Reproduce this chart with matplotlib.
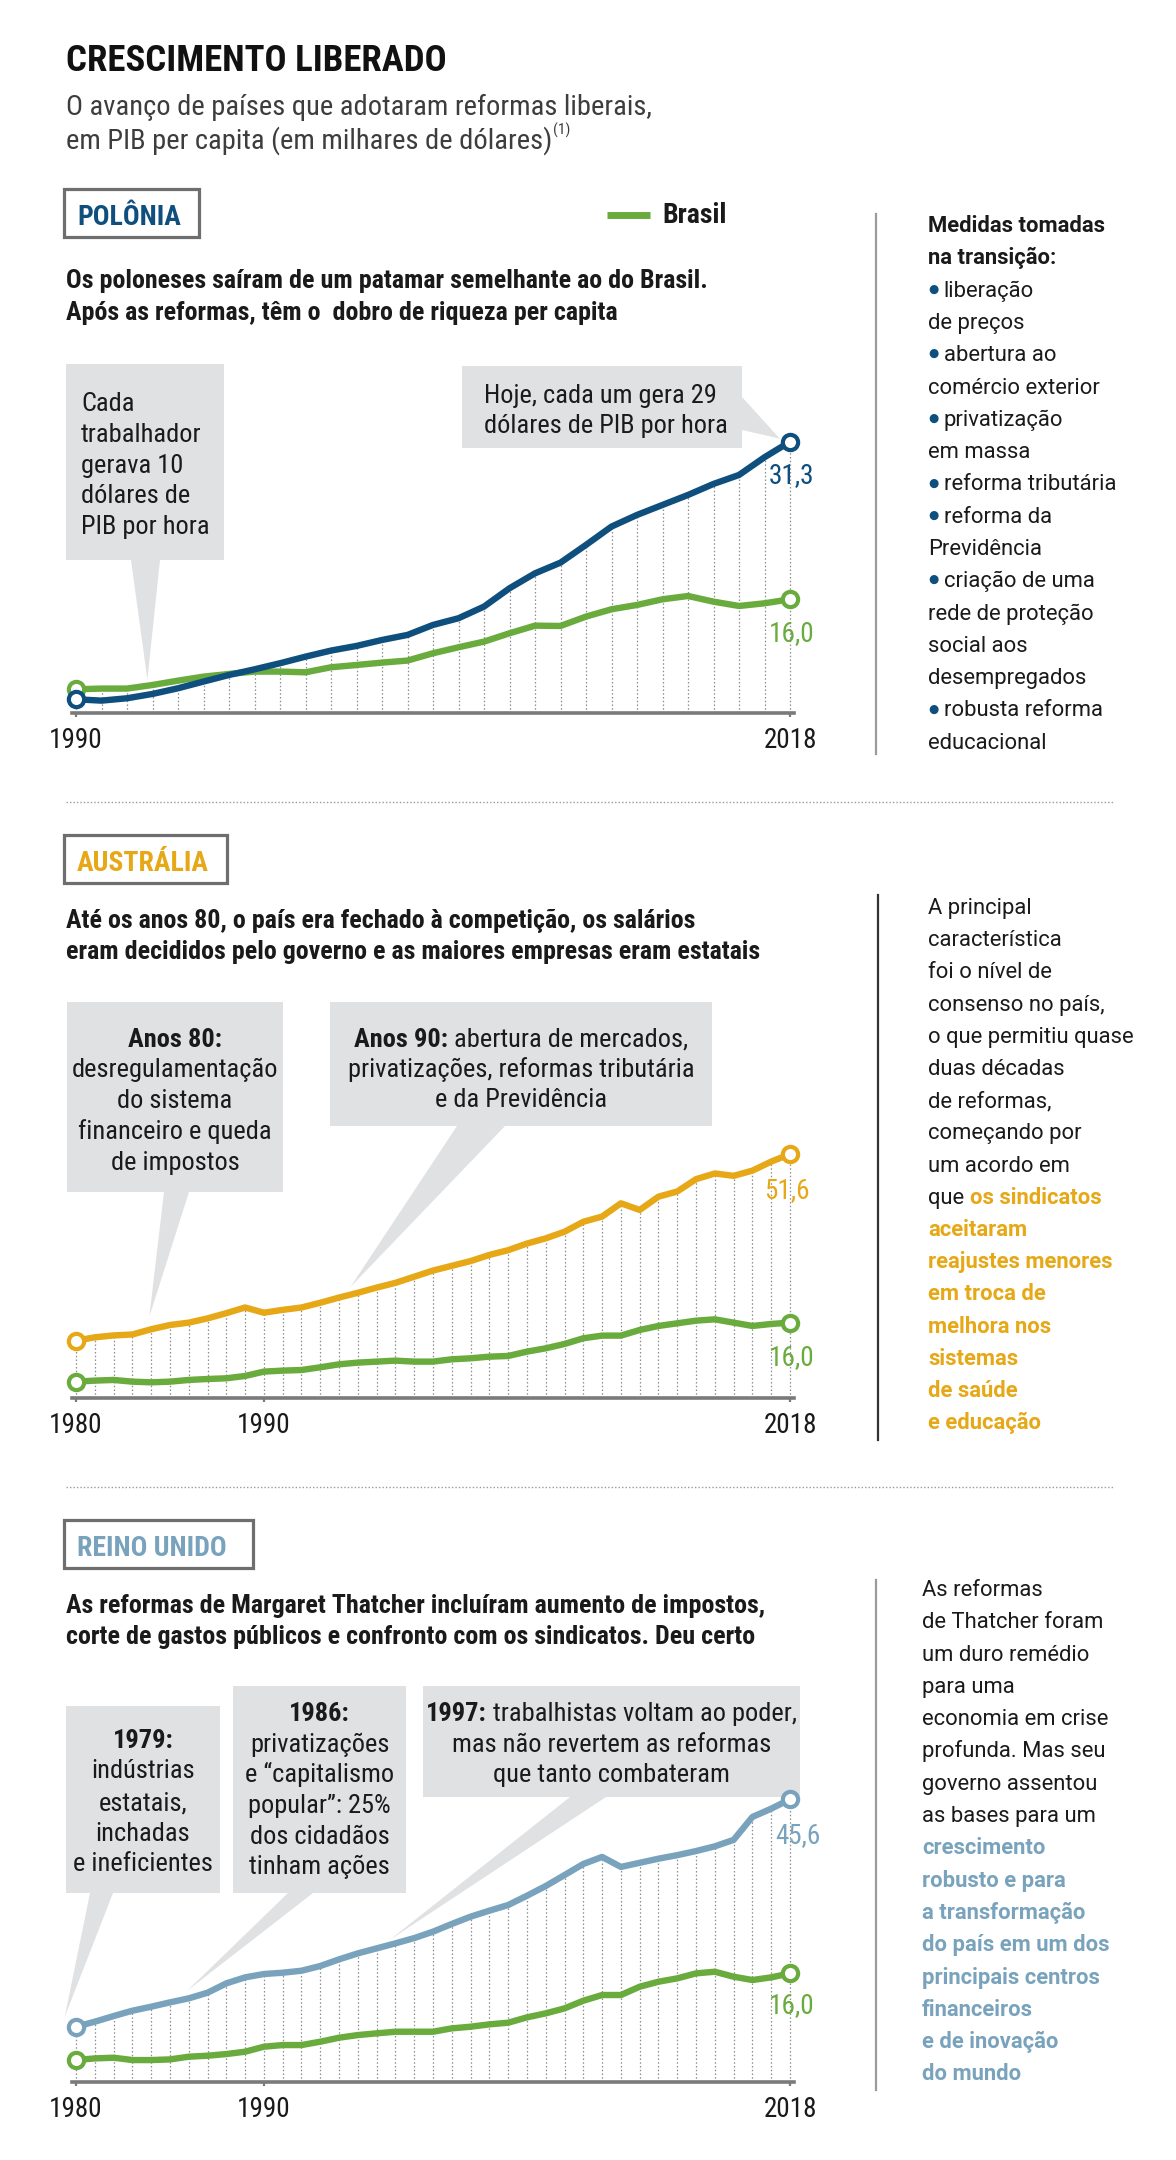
import os
import numpy as np
import matplotlib
matplotlib.use("Agg")
import matplotlib.pyplot as plt
from matplotlib.font_manager import FontProperties, fontManager
from matplotlib.patches import Rectangle, Polygon

# ---------------- data ----------------
years_pl = np.arange(1990, 2019)
polonia = [6.29, 6.16, 6.39, 6.81, 7.36, 8.01, 8.65, 9.20, 9.79, 10.43,
           11.02, 11.47, 12.05, 12.54, 13.51, 14.16, 15.29, 17.07, 18.52, 19.56,
           21.28, 23.06, 24.19, 25.16, 26.13, 27.20, 28.07, 29.79, 31.3]
brasil_pl = [7.26, 7.33, 7.33, 7.68, 8.10, 8.49, 8.75, 8.98, 8.98, 8.91,
             9.40, 9.62, 9.85, 10.05, 10.76, 11.34, 11.89, 12.70, 13.44, 13.41,
             14.32, 15.03, 15.45, 16.0, 16.32, 15.77, 15.35, 15.61, 16.0]

years_80 = np.arange(1980, 2019)
australia = [12.2, 12.9, 13.3, 13.5, 14.6, 15.5, 16.0, 16.9, 18.0, 19.2,
             18.1, 18.7, 19.2, 20.2, 21.3, 22.3, 23.4, 24.4, 25.7, 27.0,
             28.0, 29.0, 30.3, 31.3, 32.7, 33.8, 35.2, 37.3, 38.4, 41.2,
             39.8, 42.6, 43.7, 46.3, 47.5, 47.0, 48.1, 50.0, 51.6]
brasil_au = [3.54, 3.76, 3.90, 3.54, 3.40, 3.54, 3.90, 4.10, 4.25, 4.74,
             5.66, 5.87, 6.00, 6.57, 7.20, 7.56, 7.77, 7.98, 7.77, 7.77,
             8.26, 8.47, 8.82, 8.96, 9.88, 10.58, 11.50, 12.70, 13.26, 13.26,
             14.45, 15.30, 15.86, 16.42, 16.70, 16.00, 15.30, 15.72, 16.0]

reino_unido = [6.93, 7.78, 8.74, 9.65, 10.33, 11.07, 11.75, 12.71, 14.3, 15.32,
               15.89, 16.11, 16.45, 17.25, 18.38, 19.4, 20.25, 21.1, 22.0, 23.09,
               24.4, 25.64, 26.66, 27.62, 29.2, 30.85, 32.72, 34.6, 35.8, 34.1,
               34.8, 35.5, 36.1, 36.8, 37.6, 38.7, 42.6, 44.0, 45.6]
brasil_uk = [1.26, 1.54, 1.66, 1.26, 1.26, 1.37, 1.83, 2.0, 2.28, 2.68,
             3.53, 3.81, 3.81, 4.38, 5.06, 5.51, 5.8, 6.08, 6.08, 6.08,
             6.65, 6.93, 7.33, 7.61, 8.52, 9.2, 10.05, 11.35, 12.32, 12.32,
             13.73, 14.58, 15.15, 16.0, 16.28, 15.43, 14.87, 15.32, 16.0]

ticks_pl = [1990, 2018]
ticks_80 = [1980, 1990, 2018]

# ---------------- style ----------------
W, H = 1176, 2160
GREEN = "#6aab3d"
BLUE = "#0e4f7e"
ORANGE = "#e6a816"
UKBLUE = "#79a3bc"
BOXGRAY = "#e0e1e3"
TXT = "#1a1a1a"


def wnum(w):
    if isinstance(w, (int, float)):
        return int(w)
    return {"normal": 400, "regular": 400, "book": 400, "medium": 500,
            "semibold": 600, "demibold": 600, "bold": 700, "heavy": 800,
            "black": 900, "light": 300}.get(str(w).lower(), 400)


def find_condensed(target):
    prefs = ["Roboto Condensed", "Liberation Sans Narrow", "Noto Sans", "Open Sans",
             "DejaVu Sans", "Fira Sans Condensed", "IBM Plex Sans Condensed",
             "PT Sans Narrow", "Ubuntu Condensed", "Arial Narrow"]
    best = None
    for rank, fam in enumerate(prefs):
        for f in fontManager.ttflist:
            base = os.path.basename(f.fname).lower()
            if "mono" in base or "cjk" in base or f.style != "normal":
                continue
            if not f.name.startswith(fam):
                continue
            nm = f.name.lower()
            narrow = ("condensed" in base or "narrow" in base or "condensed" in nm
                      or "narrow" in nm or str(f.stretch) == "condensed")
            if not narrow:
                continue
            if any(k in base for k in ("extra", "semi", "ultra")) or "[" in base:
                continue
            d = abs(wnum(f.weight) - target)
            if d > 100:
                continue
            key = (rank, d)
            if best is None or key < best[0]:
                best = (key, f.fname)
    return best[1] if best else None


COND_REG = find_condensed(400)
COND_BOLD = find_condensed(700)


def fp_cond(size, bold=False):
    path = COND_BOLD if bold else COND_REG
    if path:
        return FontProperties(fname=path, size=size)
    return FontProperties(family=["Liberation Sans", "DejaVu Sans"],
                          weight="bold" if bold else "normal", size=size * 0.86)


def fp_body(size, bold=False):
    return FontProperties(family=["Roboto", "DejaVu Sans"],
                          weight="bold" if bold else "normal", size=size)


fig = plt.figure(figsize=(W / 100, H / 100), dpi=100)
fig.patch.set_facecolor("white")
ov = fig.add_axes([0, 0, 1, 1], zorder=0)
ov.set_xlim(0, W)
ov.set_ylim(H, 0)
ov.axis("off")
renderer = fig.canvas.get_renderer()


def T(x, y, s, size, bold=False, color=TXT, ha="left", cond=True):
    fp = fp_cond(size, bold) if cond else fp_body(size, bold)
    return ov.text(x, y, s, fontproperties=fp, color=color, ha=ha, va="baseline")


def width_of(s, fp):
    t = ov.text(0, 0, s, fontproperties=fp)
    w = t.get_window_extent(renderer=renderer).width
    t.remove()
    return w


def mixed(x, y, parts, ha="left"):
    # parts: (text, size, bold, color, cond[, dy])
    items = []
    for p in parts:
        s, size, bold, color, cond = p[:5]
        dy = p[5] if len(p) > 5 else 0
        fp = fp_cond(size, bold) if cond else fp_body(size, bold)
        core = s.strip(" ")
        sp = width_of("a a", fp) - width_of("aa", fp)
        lead = (len(s) - len(s.lstrip(" "))) * sp
        trail = (len(s) - len(s.rstrip(" "))) * sp
        w = width_of(core, fp) if core else 0
        items.append((core, fp, color, lead, w, trail, dy))
    total = sum(i[3] + i[4] + i[5] for i in items)
    cx = x - total / 2 if ha == "center" else x
    for core, fp, color, lead, w, trail, dy in items:
        cx += lead
        if core:
            ov.text(cx, y + dy, core, fontproperties=fp, color=color, ha="left",
                    va="baseline")
        cx += w + trail


def country_box(x0, y0, x1, y1, label, color, bl):
    ov.add_patch(Rectangle((x0, y0), x1 - x0, y1 - y0, fill=False,
                           edgecolor="#6e6e6e", lw=2.3))
    T(x0 + 13, bl, label, 20, bold=True, color=color)


def callout(ax, box, base, tip_data, lines, ha="left", tx=None):
    x0, y0, x1, y1 = box
    ov.add_patch(Rectangle((x0, y0), x1 - x0, y1 - y0, facecolor=BOXGRAY,
                           edgecolor="none", zorder=1))
    dx, dy = ax.transData.transform(tip_data)
    tip = (dx, H - dy)
    ov.add_patch(Polygon([base[0], base[1], tip], closed=True, facecolor=BOXGRAY,
                         edgecolor="none", zorder=1))
    for y, parts in lines:
        xx = (x0 + x1) / 2 if tx is None else tx
        mixed(xx, y, parts, ha=ha)


def chart(rect_px, years, country, brasil, ccolor, ylim, ticks, lab_off_c, lab_off_b):
    left, right, top, bottom = rect_px
    ax = fig.add_axes([left / W, 1 - bottom / H, (right - left) / W, (bottom - top) / H],
                      zorder=2)
    ax.set_facecolor("none")
    x0p, x1p = 76, 790
    ppy = (x1p - x0p) / (years[-1] - years[0])
    ax.set_xlim(years[0] - (x0p - left) / ppy, years[-1] + (right - x1p) / ppy)
    ax.set_ylim(*ylim)
    topv = np.maximum(np.array(country), np.array(brasil))
    ax.vlines(years, ylim[0], topv, colors="#8c8c8c", linestyles=(0, (1.2, 1.8)),
              lw=0.9, zorder=1)
    for vals, col in ((brasil, GREEN), (country, ccolor)):
        ax.plot(years, vals, color=col, lw=4.6, solid_joinstyle="round",
                solid_capstyle="round", zorder=3, clip_on=False)
        ax.plot([years[0], years[-1]], [vals[0], vals[-1]], "o", ms=11, mfc="white",
                mec=col, mew=3, zorder=4, clip_on=False)
    for s in ("top", "left", "right"):
        ax.spines[s].set_visible(False)
    ax.spines["bottom"].set_color("#7a7a7a")
    ax.spines["bottom"].set_linewidth(2.6)
    ax.set_yticks([])
    ax.set_xticks(ticks)
    ax.set_xticklabels([str(t) for t in ticks])
    ax.tick_params(axis="x", length=3, width=1.6, color="#7a7a7a", pad=7,
                   labelcolor=TXT)
    for lbl in ax.get_xticklabels():
        lbl.set_fontproperties(fp_cond(19.5))
    for vals, col, off in ((country, ccolor, lab_off_c), (brasil, GREEN, lab_off_b)):
        ax.annotate(f"{vals[-1]:.1f}".replace(".", ","), xy=(years[-1], vals[-1]),
                    xytext=off, textcoords="offset pixels", ha="center",
                    va="baseline", color=col, fontproperties=fp_cond(19.5))
    return ax


# ---------------- header ----------------
T(66, 71, "CRESCIMENTO LIBERADO", 26.5, bold=True, color="#111111")
SUBC = "#3d3d3d"
T(66, 115, "O avanço de países que adotaram reformas liberais,", 20.5, color=SUBC)
sub2 = "em PIB per capita (em milhares de dólares)"
T(66, 149, sub2, 20.5, color=SUBC)
w_sub = width_of(sub2, fp_cond(20.5))
T(66 + w_sub + 1, 135, "(1)", 11, color=SUBC)

# separators between sections
for yy in (802, 1487):
    ov.plot([66, 1114], [yy, yy], color="#9a9a9a", lw=1.0, ls=(0, (1, 1.5)))

# ---------------- POLÔNIA ----------------
country_box(64, 189, 199, 237, "POLÔNIA", BLUE, 225)
ov.plot([607, 650], [215, 215], color=GREEN, lw=5, solid_capstyle="butt")
T(662, 223, "Brasil", 20, bold=True)
T(66, 288, "Os poloneses saíram de um patamar semelhante ao do Brasil.", 18.7, bold=True)
T(66, 320, "Após as reformas, têm o  dobro de riqueza per capita", 18.7, bold=True)

ax_pl = chart((72, 794, 400, 713.3), years_pl, polonia, brasil_pl, BLUE,
              (4.93, 35.35), ticks_pl, (2, -41), (2, -42))

R = lambda s, b=False, c=TXT: (s, 19, b, c, True)
callout(ax_pl, (66, 364, 224, 560), ((131, 560), (160, 560)), (1992.8, 8.2),
        [(411, [R("Cada")]), (442, [R("trabalhador")]), (473, [R("gerava 10")]),
         (503, [R("dólares de")]), (534, [R("PIB por hora")])], ha="left", tx=81)
callout(ax_pl, (462, 366, 742, 448), ((742, 397), (742, 430)), (2017.6, 31.6),
        [(403, [R("Hoje, cada um gera 29")]), (433, [R("dólares de PIB por hora")])],
        ha="left", tx=484)

ov.plot([876, 876], [214, 754], color="#9a9a9a", lw=1.6)
rx, ls, y0 = 928, 32.3, 232
B = lambda s, b=False, c=TXT: (s, 15.8, b, c, False)
DOT = ("●", 8.5, False, BLUE, False, -4)
pl_lines = [
    [B("Medidas tomadas", True)], [B("na transição:", True)],
    [DOT, B(" liberação")], [B("de preços")],
    [DOT, B(" abertura ao")], [B("comércio exterior")],
    [DOT, B(" privatização")], [B("em massa")],
    [DOT, B(" reforma tributária")],
    [DOT, B(" reforma da")], [B("Previdência")],
    [DOT, B(" criação de uma")], [B("rede de proteção")],
    [B("social aos")], [B("desempregados")],
    [DOT, B(" robusta reforma")], [B("educacional")],
]
for i, parts in enumerate(pl_lines):
    mixed(rx, y0 + i * ls, parts)

# ---------------- AUSTRÁLIA ----------------
country_box(64, 835, 227, 883, "AUSTRÁLIA", ORANGE, 871)
T(66, 928, "Até os anos 80, o país era fechado à competição, os salários", 18.7, bold=True)
T(66, 959, "eram decididos pelo governo e as maiores empresas eram estatais", 18.7, bold=True)

ax_au = chart((72, 794, 1120, 1398.3), years_80, australia, brasil_au, ORANGE,
              (0.025, 58.79), ticks_80, (-3, -44), (2, -42))

callout(ax_au, (67, 1002, 283, 1192), ((164, 1192), (189, 1192)), (1983.9, 17.2),
        [(1047, [R("Anos 80:", True)]), (1077, [R("desregulamentação")]),
         (1108, [R("do sistema")]), (1139, [R("financeiro e queda")]),
         (1170, [R("de impostos")])], ha="center")
callout(ax_au, (330, 1002, 712, 1126), ((457, 1126), (505, 1126)), (1994.6, 23.5),
        [(1047, [R("Anos 90:", True), R(" abertura de mercados,")]),
         (1077, [R("privatizações, reformas tributária")]),
         (1107, [R("e da Previdência")])], ha="center")

ov.plot([878, 878], [895, 1440], color="#333333", lw=1.6)
y0 = 914
O = lambda s: (s, 15.8, True, ORANGE, False)
au_lines = [
    [B("A principal")], [B("característica")], [B("foi o nível de")],
    [B("consenso no país,")], [B("o que permitiu quase")], [B("duas décadas")],
    [B("de reformas,")], [B("começando por")], [B("um acordo em")],
    [B("que "), O("os sindicatos")], [O("aceitaram")], [O("reajustes menores")],
    [O("em troca de")], [O("melhora nos")], [O("sistemas")], [O("de saúde")],
    [O("e educação")],
]
for i, parts in enumerate(au_lines):
    mixed(rx, y0 + i * 32.2, parts)

# ---------------- REINO UNIDO ----------------
country_box(64, 1520, 253, 1568, "REINO UNIDO", UKBLUE, 1556)
T(66, 1613, "As reformas de Margaret Thatcher incluíram aumento de impostos,", 18.7, bold=True)
T(66, 1644, "corte de gastos públicos e confronto com os sindicatos. Deu certo", 18.7, bold=True)

ax_uk = chart((72, 794, 1760, 2081.7), years_80, reino_unido, brasil_uk, UKBLUE,
              (-2.42, 52.28), ticks_80, (8, -44), (2, -40))

callout(ax_uk, (66, 1706, 220, 1893), ((90, 1893), (113, 1893)), (1979.4, 8.6),
        [(1748, [R("1979:", True)]), (1778, [R("indústrias")]), (1810, [R("estatais,")]),
         (1841, [R("inchadas")]), (1871, [R("e ineficientes")])], ha="center")
callout(ax_uk, (233, 1686, 406, 1893), ((288, 1893), (313, 1893)), (1985.9, 13.0),
        [(1721, [R("1986:", True)]), (1752, [R("privatizações")]),
         (1782, [R("e “capitalismo")]), (1813, [R("popular”: 25%")]),
         (1844, [R("dos cidadãos")]), (1874, [R("tinham ações")])], ha="center")
callout(ax_uk, (423, 1686, 800, 1797), ((570, 1797), (606, 1797)), (1996.7, 21.7),
        [(1721, [R("1997:", True), R(" trabalhistas voltam ao poder,")]),
         (1752, [R("mas não revertem as reformas")]),
         (1782, [R("que tanto combateram")])], ha="center")

ov.plot([876, 876], [1580, 2090], color="#9a9a9a", lw=1.6)
y0 = 1596
U = lambda s: (s, 15.8, True, UKBLUE, False)
uk_lines = [
    [B("As reformas")], [B("de Thatcher foram")], [B("um duro remédio")],
    [B("para uma")], [B("economia em crise")], [B("profunda. Mas seu")],
    [B("governo assentou")], [B("as bases para um")],
    [U("crescimento")], [U("robusto e para")], [U("a transformação")],
    [U("do país em um dos")], [U("principais centros")], [U("financeiros")],
    [U("e de inovação")], [U("do mundo")],
]
for i, parts in enumerate(uk_lines):
    mixed(922, y0 + i * 32.3, parts)

fig.savefig("out.png", dpi=100, facecolor="white")
